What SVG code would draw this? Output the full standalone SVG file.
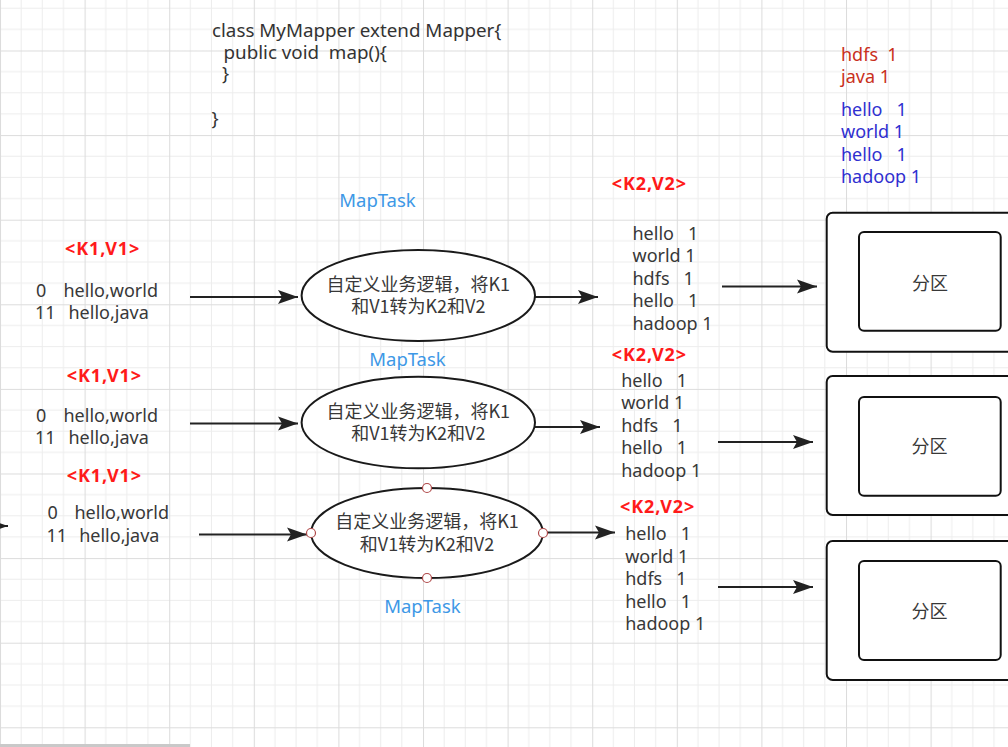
<svg xmlns="http://www.w3.org/2000/svg" width="1008" height="747" viewBox="0 0 1008 747">
<defs>
<pattern id="grid" patternUnits="userSpaceOnUse" x="0" y="50.5" width="84.6" height="84.6"><rect x="0" y="0" width="84.6" height="84.6" fill="#ffffff"/><path d="M21.15 0V84.6M42.3 0V84.6M63.45 0V84.6M0 21.15H84.6M0 42.3H84.6M0 63.45H84.6" stroke="#ededed" stroke-width="1" fill="none"/><path d="M0.5 0V84.6M0 0.5H84.6" stroke="#dcdcdc" stroke-width="1" fill="none"/></pattern>
<marker id="arr" markerUnits="userSpaceOnUse" markerWidth="22" markerHeight="16" refX="20" refY="7" orient="auto" overflow="visible"><path d="M0,0 L20,7 L0,14 L4,7 Z" fill="#222"/></marker>
<style>
text{white-space:pre}
.t{font-family:"Noto Sans","Noto Sans CJK SC",sans-serif;font-size:18px;fill:#383838}
.code{font-family:"Noto Sans","Noto Sans CJK SC",sans-serif;font-size:18.8px;fill:#333}
.kv{font-family:"Noto Sans","Noto Sans CJK SC",sans-serif;font-size:18px;font-weight:bold;fill:#ff1a1a;letter-spacing:0.9px}
.mt{font-family:"Noto Sans","Noto Sans CJK SC",sans-serif;font-size:18.5px;fill:#3d98e6;text-anchor:middle}
.cn{font-family:"Noto Sans CJK SC",sans-serif;font-size:18px;fill:#383838;text-anchor:middle}
.red{font-family:"Noto Sans","Noto Sans CJK SC",sans-serif;font-size:18px;fill:#c9301c}
.blue{font-family:"Noto Sans","Noto Sans CJK SC",sans-serif;font-size:18px;fill:#2f2fd0}
.ell{fill:#fff;stroke:#1a1a1a;stroke-width:2}
.box{fill:#fff;stroke:#111;stroke-width:2}
.ln{stroke:#222;stroke-width:2;fill:none;marker-end:url(#arr)}
.hd{fill:#fff;stroke:#b04a4a;stroke-width:1.2}
</style>
</defs>
<rect x="0" y="0" width="1008" height="747" fill="url(#grid)"/>
<rect x="0" y="744" width="190" height="3" fill="#c9c9c9"/>
<g id="code">
<text class="code" x="212" y="37">class MyMapper extend Mapper{</text>
<text class="code" x="223.5" y="59" xml:space="preserve">public void  map(){</text>
<text class="code" x="222" y="80">}</text>
<text class="code" x="211.5" y="125">}</text>
</g>
<g id="counts">
<text class="red" x="841" y="60.7" xml:space="preserve">hdfs  1</text>
<text class="red" x="841" y="83.3">java 1</text>
<text class="blue" x="841" y="116" xml:space="preserve">hello   1</text>
<text class="blue" x="841" y="138.3">world 1</text>
<text class="blue" x="841" y="160.7" xml:space="preserve">hello   1</text>
<text class="blue" x="841" y="183.3">hadoop 1</text>
</g>
<g id="connectors">
<line class="ln" x1="190" y1="297" x2="298" y2="297"/>
<line class="ln" x1="535" y1="297" x2="598" y2="297"/>
<line class="ln" x1="722" y1="286.5" x2="817" y2="286.5"/>
<line class="ln" x1="190" y1="423.5" x2="298" y2="423.5"/>
<line class="ln" x1="535" y1="427" x2="600" y2="427"/>
<line class="ln" x1="718" y1="442" x2="813" y2="442"/>
<line class="ln" x1="199" y1="534.5" x2="307" y2="534.5"/>
<line class="ln" x1="543" y1="532.5" x2="615" y2="532.5"/>
<line class="ln" x1="718" y1="587" x2="813" y2="587"/>
<line class="ln" x1="-30" y1="526" x2="8" y2="526"/>
</g>
<g id="input1">
<text class="kv" x="65" y="255">&lt;K1,V1&gt;</text>
<text class="t" y="296.7" xml:space="preserve"><tspan x="36">0   </tspan><tspan x="63.5">hello,world</tspan></text>
<text class="t" y="319.3" xml:space="preserve"><tspan x="35">11  </tspan><tspan x="68.5">hello,java</tspan></text>
</g>
<g id="input2">
<text class="kv" x="66.7" y="381.7">&lt;K1,V1&gt;</text>
<text class="t" y="422.3" xml:space="preserve"><tspan x="36">0   </tspan><tspan x="63.5">hello,world</tspan></text>
<text class="t" y="444.3" xml:space="preserve"><tspan x="35">11  </tspan><tspan x="68.5">hello,java</tspan></text>
</g>
<g id="input3">
<text class="kv" x="66.7" y="481.7">&lt;K1,V1&gt;</text>
<text class="t" y="519.3" xml:space="preserve"><tspan x="47.5">0   </tspan><tspan x="74.5">hello,world</tspan></text>
<text class="t" y="541.7" xml:space="preserve"><tspan x="46.5">11  </tspan><tspan x="79.2">hello,java</tspan></text>
</g>
<g id="maptask1">
<text class="mt" x="377.5" y="207">MapTask</text>
<ellipse class="ell" cx="418.3" cy="295.5" rx="116.7" ry="45.5"/>
<text class="cn" x="418.3" y="291">自定义业务逻辑，将K1</text>
<text class="cn" x="418.3" y="313">和V1转为K2和V2</text>
</g>
<g id="maptask2">
<text class="mt" x="407.5" y="366">MapTask</text>
<ellipse class="ell" cx="418.3" cy="422.5" rx="116.7" ry="45.8"/>
<text class="cn" x="418.3" y="418">自定义业务逻辑，将K1</text>
<text class="cn" x="418.3" y="440">和V1转为K2和V2</text>
</g>
<g id="maptask3">
<ellipse class="ell" cx="427" cy="533" rx="116" ry="45"/>
<text class="cn" x="427" y="528">自定义业务逻辑，将K1</text>
<text class="cn" x="427" y="551">和V1转为K2和V2</text>
<circle class="hd" cx="427" cy="488" r="4.5"/>
<circle class="hd" cx="427" cy="578" r="4.5"/>
<circle class="hd" cx="311" cy="533" r="4.5"/>
<circle class="hd" cx="543" cy="533" r="4.5"/>
<text class="mt" x="422.4" y="613">MapTask</text>
</g>
<g id="output1">
<text class="kv" x="611.7" y="190">&lt;K2,V2&gt;</text>
<text class="t" x="632.5" y="239.5" xml:space="preserve">hello   1</text>
<text class="t" x="632.5" y="262">world 1</text>
<text class="t" x="632.5" y="284.5" xml:space="preserve">hdfs   1</text>
<text class="t" x="632.5" y="307" xml:space="preserve">hello   1</text>
<text class="t" x="632.5" y="329.5">hadoop 1</text>
</g>
<g id="output2">
<text class="kv" x="611.7" y="360.7">&lt;K2,V2&gt;</text>
<text class="t" x="621.2" y="386.7" xml:space="preserve">hello   1</text>
<text class="t" x="621.2" y="409">world 1</text>
<text class="t" x="621.2" y="431.7" xml:space="preserve">hdfs   1</text>
<text class="t" x="621.2" y="454" xml:space="preserve">hello   1</text>
<text class="t" x="621.2" y="476.7">hadoop 1</text>
</g>
<g id="output3">
<text class="kv" x="620" y="513.3">&lt;K2,V2&gt;</text>
<text class="t" x="625.2" y="540" xml:space="preserve">hello   1</text>
<text class="t" x="625.2" y="562.7">world 1</text>
<text class="t" x="625.2" y="585" xml:space="preserve">hdfs   1</text>
<text class="t" x="625.2" y="607.7" xml:space="preserve">hello   1</text>
<text class="t" x="625.2" y="630">hadoop 1</text>
</g>
<g id="partition1">
<rect class="box" x="826.7" y="212.7" width="220" height="139" rx="6"/>
<rect class="box" x="859" y="232" width="141.7" height="98.7" rx="5"/>
<text class="cn" x="930" y="289.5">分区</text>
</g>
<g id="partition2">
<rect class="box" x="826.7" y="376" width="220" height="139" rx="6"/>
<rect class="box" x="859" y="397" width="141.7" height="98.7" rx="5"/>
<text class="cn" x="929.5" y="453">分区</text>
</g>
<g id="partition3">
<rect class="box" x="826.7" y="541" width="220" height="139" rx="6"/>
<rect class="box" x="859" y="561" width="141.7" height="99" rx="5"/>
<text class="cn" x="929.5" y="617.5">分区</text>
</g>
</svg>
